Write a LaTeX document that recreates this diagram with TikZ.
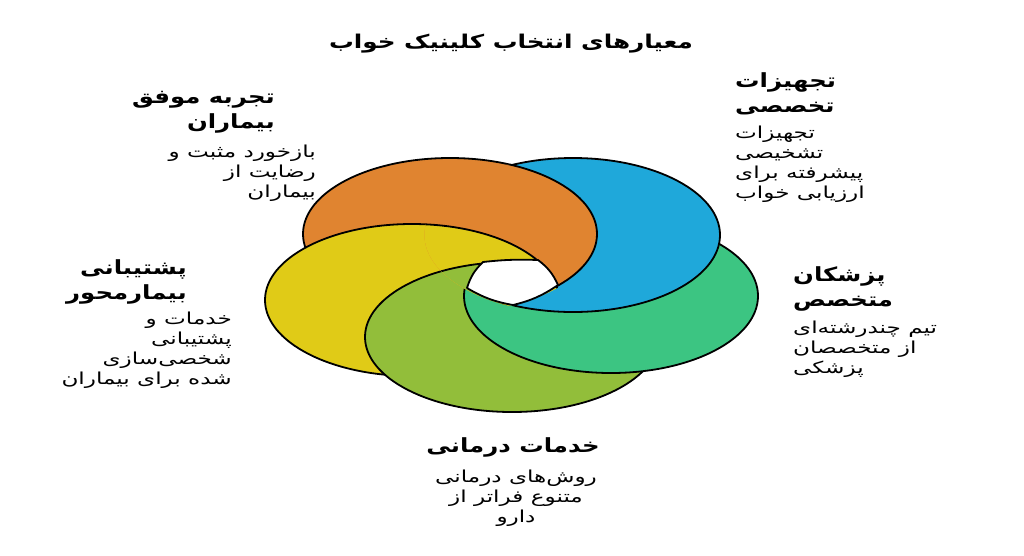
\documentclass[tikz,border=0pt]{standalone}
\usepackage{fontspec}
\newfontfamily\fah[Script=Arabic,FakeStretch=1.25]{DejaVu Sans}
\newfontfamily\fab[Script=Arabic,FakeStretch=1.4]{DejaVu Sans}
\newfontfamily\fat[Script=Arabic,FakeStretch=1.3]{DejaVu Sans}
\TeXXeTstate=1
\newcommand{\rl}[1]{\beginR #1\endR}
\definecolor{corange}{RGB}{224,132,48}
\definecolor{cblue}{RGB}{31,168,218}
\definecolor{cgreen}{RGB}{60,197,130}
\definecolor{clime}{RGB}{146,190,58}
\definecolor{cyellow}{RGB}{224,203,23}
\begin{document}
\begin{tikzpicture}[x=1pt,y=-1pt,
  piece/.style={draw=black,line width=1.8pt,line join=round},
  head/.style={font=\fah\bfseries\fontsize{19.5}{25}\selectfont,inner sep=0pt},
  body/.style={font=\fab\fontsize{16.5}{20}\selectfont,inner sep=0pt},
  ttl/.style={font=\fat\bfseries\fontsize{19}{22}\selectfont,inner sep=0pt}]
\useasboundingbox (0,0) rectangle (1024,555);
\fill[white] (0,0) rectangle (1024,555);
\coordinate (cO) at (450,234);
\coordinate (cB) at (573,235);
\coordinate (cG) at (611,296);
\coordinate (cL) at (512,337);
\coordinate (cY) at (412,300);
\coordinate (h1) at (483,262);
\coordinate (h2) at (538,260);
\coordinate (h3) at (558,285);
\coordinate (h4) at (513,305);
\coordinate (h5) at (467,288);
% base layer
\path[piece,fill=corange] (cO) ellipse [x radius=147pt,y radius=76pt];
\path[piece,fill=cyellow] (cY) ellipse [x radius=147pt,y radius=76pt];
\path[piece,fill=clime] (cL) ellipse [x radius=147pt,y radius=75pt];
\path[piece,fill=cgreen] (cG) ellipse [x radius=147pt,y radius=77pt];
\fill[cblue] (cB) ellipse [x radius=147pt,y radius=77pt];
\begin{scope}
  \clip (512,100) rectangle (740,330);
  \draw[piece] (cB) ellipse [x radius=147pt,y radius=77pt];
\end{scope}
% close the cycle: orange over blue, yellow over orange, lime over yellow
\begin{scope}
  \clip (cO) ellipse [x radius=149pt,y radius=78pt];
  \clip (cB) ellipse [x radius=148.5pt,y radius=78.5pt];
  \path[piece,fill=corange] (cO) ellipse [x radius=147pt,y radius=76pt];
  \begin{scope}
    \clip (250,150) -- (515,150) -- (538,259) -- (565,295) -- (565,340) -- (250,340) -- cycle;
    \path[piece,fill=cyellow] (cY) ellipse [x radius=147pt,y radius=76pt];
  \end{scope}
  \begin{scope}
    \clip (250,150) rectangle (505,340);
    \path[piece,fill=clime] (cL) ellipse [x radius=147pt,y radius=75pt];
  \end{scope}
\end{scope}
% central opening
\path[piece,fill=white] (h1) to[bend left=4] (h2) to[bend left=14] (h3)
  to[bend left=10] (h4) to[bend left=10] (h5) to[bend left=14] (h1) -- cycle;
% texts
\node[ttl] (title) at (511,44) {\rl{معیارهای انتخاب کلینیک خواب}};
\node[head,anchor=north west,align=left] (trh) at (735,72) {\rl{تجهیزات}\\\rl{تخصصی}};
\node[body,anchor=north west,align=left] (trb) at (735,126) {\rl{تجهیزات}\\\rl{تشخیصی}\\\rl{پیشرفته برای}\\\rl{ارزیابی خواب}};
\node[head,anchor=north east,align=right] (tlh) at (275,91) {\rl{تجربه موفق}\\\rl{بیماران}};
\node[body,anchor=north east,align=right] (tlb) at (316,145) {\rl{بازخورد مثبت و}\\\rl{رضایت از}\\\rl{بیماران}};
\node[head,anchor=north east,align=right] (lh) at (187,259) {\rl{پشتیبانی}\\\rl{بیمارمحور}};
\node[body,anchor=north east,align=right] (lb) at (232,312) {\rl{خدمات و}\\\rl{پشتیبانی}\\\rl{شخصی‌سازی}\\\rl{شده برای بیماران}};
\node[head,anchor=north west,align=left] (rh) at (793,266) {\rl{پزشکان}\\\rl{متخصص}};
\node[body,anchor=north west,align=left] (rb) at (793,321) {\rl{تیم چندرشته‌ای}\\\rl{از متخصصان}\\\rl{پزشکی}};
\node[head,anchor=north] (bh) at (513,437) {\rl{خدمات درمانی}};
\node[body,anchor=north,align=center] (bb) at (516,470) {\rl{روش‌های درمانی}\\\rl{متنوع فراتر از}\\\rl{دارو}};
\end{tikzpicture}
\end{document}
